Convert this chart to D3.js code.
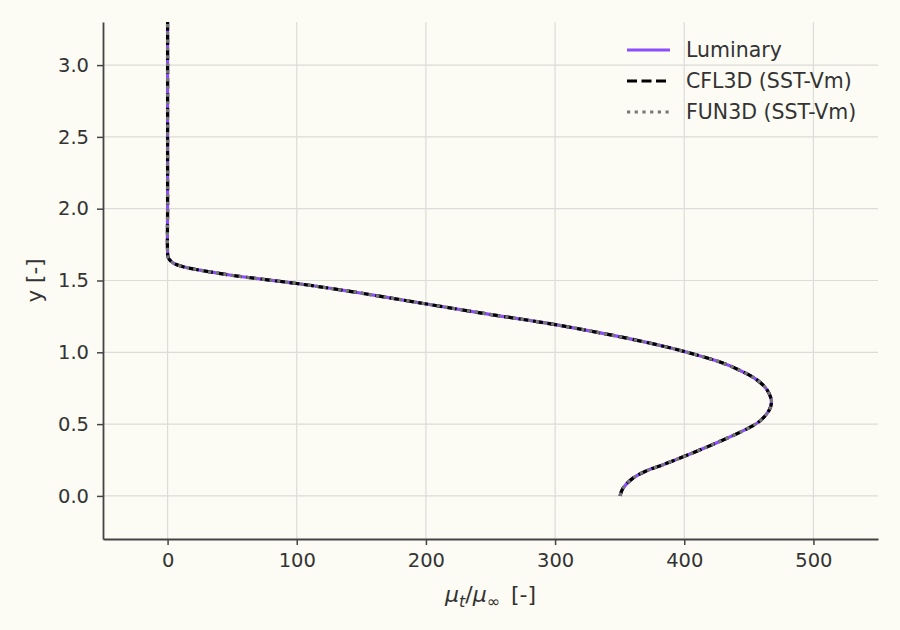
<!DOCTYPE html>
<html>
<head>
<meta charset="utf-8">
<script src="https://cdn.jsdelivr.net/npm/d3@7"></script>
<style>
  body { margin: 0; background: #fcfbf4; }
  svg { display: block; font-family: "DejaVu Sans", sans-serif; }
</style>
</head>
<body>
<div id="chart"></div>
<script>
// profile: mu_t/mu_inf vs y
const profileY = [0, 0.054, 0.124, 0.174, 0.216, 0.274, 0.321, 0.379, 0.449, 0.519, 0.6, 0.66, 0.74, 0.81,
    0.879, 0.937, 0.996, 1.042, 1.09, 1.123, 1.193, 1.275, 1.34, 1.391, 1.426, 1.479, 1.535, 1.572, 1.596,
    1.624, 1.659, 1.7, 2.0, 2.5, 3.0, 3.3];
const profileMu = [350.3, 352.6, 360.3, 370.5, 383.1, 399.6, 412.4, 427.4, 444.5, 458.2, 465.9, 467.5, 464, 456,
    442, 426, 404, 384, 360, 342, 300, 242, 198, 164, 140, 100, 50.5, 25, 12,
    4, 0.5, 0, 0, 0, 0, 0];

const seriesNames = ['Luminary', 'CFL3D (SST-Vm)', 'FUN3D (SST-Vm)'];
const xTicks = [0, 100, 200, 300, 400, 500];
const yTicks = [0, 0.5, 1.0, 1.5, 2.0, 2.5, 3.0];

const width = 900;
const height = 630;
const margin = { top: 22, right: 22, bottom: 91, left: 103 };
const font = '"DejaVu Sans", sans-serif';

const svg = d3.select('#chart').append('svg')
    .attr('width', width)
    .attr('height', height);

svg.append('rect')
    .attr('width', width)
    .attr('height', height)
    .attr('fill', '#fcfbf4');

const x = d3.scaleLinear().domain([-50, 550]).range([margin.left, width - margin.right]);
const y = d3.scaleLinear().domain([-0.3, 3.3]).range([height - margin.bottom, margin.top]);

// grid
svg.append('g')
    .selectAll('line')
    .data(xTicks)
    .join('line')
    .attr('x1', d => x(d)).attr('x2', d => x(d))
    .attr('y1', y.range()[0]).attr('y2', y.range()[1])
    .attr('stroke', '#dcdcd8')
    .attr('stroke-width', 1.2);
svg.append('g')
    .selectAll('line')
    .data(yTicks)
    .join('line')
    .attr('y1', d => y(d)).attr('y2', d => y(d))
    .attr('x1', x.range()[0]).attr('x2', x.range()[1])
    .attr('stroke', '#dcdcd8')
    .attr('stroke-width', 1.2);

const points = profileY.map((v, i) => ({ mu: profileMu[i], y: v }));
const line = d3.line()
    .x(d => x(d.mu))
    .y(d => y(d.y))
    .curve(d3.curveCatmullRom.alpha(0.5));

const styles = [
    { color: '#8b4dff', dash: null, w: 3.2 },
    { color: '#000000', dash: '10,4.5', w: 3.2 },
    { color: '#777777', dash: '3.2,4.5', w: 3.2 }
];

styles.forEach(s => {
    svg.append('path')
        .datum(points)
        .attr('d', line)
        .attr('fill', 'none')
        .attr('stroke', s.color)
        .attr('stroke-width', s.w)
        .attr('stroke-dasharray', s.dash);
});

// axes
const xAxis = svg.append('g')
    .attr('transform', `translate(0,${y.range()[0]})`)
    .call(d3.axisBottom(x).tickValues(xTicks).tickSize(6).tickPadding(8).tickSizeOuter(0));
const yAxis = svg.append('g')
    .attr('transform', `translate(${x.range()[0]},0)`)
    .call(d3.axisLeft(y).tickValues(yTicks).tickFormat(d3.format('.1f')).tickSize(6).tickPadding(8).tickSizeOuter(0));

[xAxis, yAxis].forEach(a => {
    a.attr('font-family', font).attr('font-size', 19.5);
    a.select('.domain').attr('stroke', '#444').attr('stroke-width', 1.8);
    a.selectAll('.tick line').attr('stroke', '#444').attr('stroke-width', 1.5);
    a.selectAll('.tick text').attr('fill', '#333');
});

// axis labels
const xLabel = svg.append('text')
    .attr('x', (x.range()[0] + x.range()[1]) / 2)
    .attr('y', 602)
    .attr('text-anchor', 'middle')
    .attr('fill', '#333')
    .attr('font-family', font)
    .style('font-size', '22px');
xLabel.append('tspan').attr('font-style', 'italic').text('μ');
xLabel.append('tspan').attr('font-style', 'italic').attr('dy', 5).style('font-size', '16px').text('t');
xLabel.append('tspan').attr('dy', -5).text('/');
xLabel.append('tspan').attr('font-style', 'italic').text('μ');
xLabel.append('tspan').attr('dy', 5).style('font-size', '16px').text('∞');
xLabel.append('tspan').attr('dy', -5).text('\u2002[-]');

svg.append('text')
    .attr('transform', `translate(42,${(y.range()[0] + y.range()[1]) / 2}) rotate(-90)`)
    .attr('text-anchor', 'middle')
    .attr('fill', '#333')
    .attr('font-family', font)
    .style('font-size', '21.5px')
    .text('y [-]');

// legend
const legendRows = [50, 81, 112];
const legend = svg.append('g');
seriesNames.forEach((name, i) => {
    const s = styles[i];
    legend.append('line')
        .attr('x1', 627).attr('x2', 670)
        .attr('y1', legendRows[i]).attr('y2', legendRows[i])
        .attr('stroke', s.color)
        .attr('stroke-width', s.w)
        .attr('stroke-dasharray', s.dash);
    legend.append('text')
        .attr('x', 686)
        .attr('y', legendRows[i])
        .attr('dy', '0.35em')
        .attr('fill', '#333')
        .attr('font-family', font)
        .style('font-size', '20.5px')
        .text(name);
});
</script>
</body>
</html>
